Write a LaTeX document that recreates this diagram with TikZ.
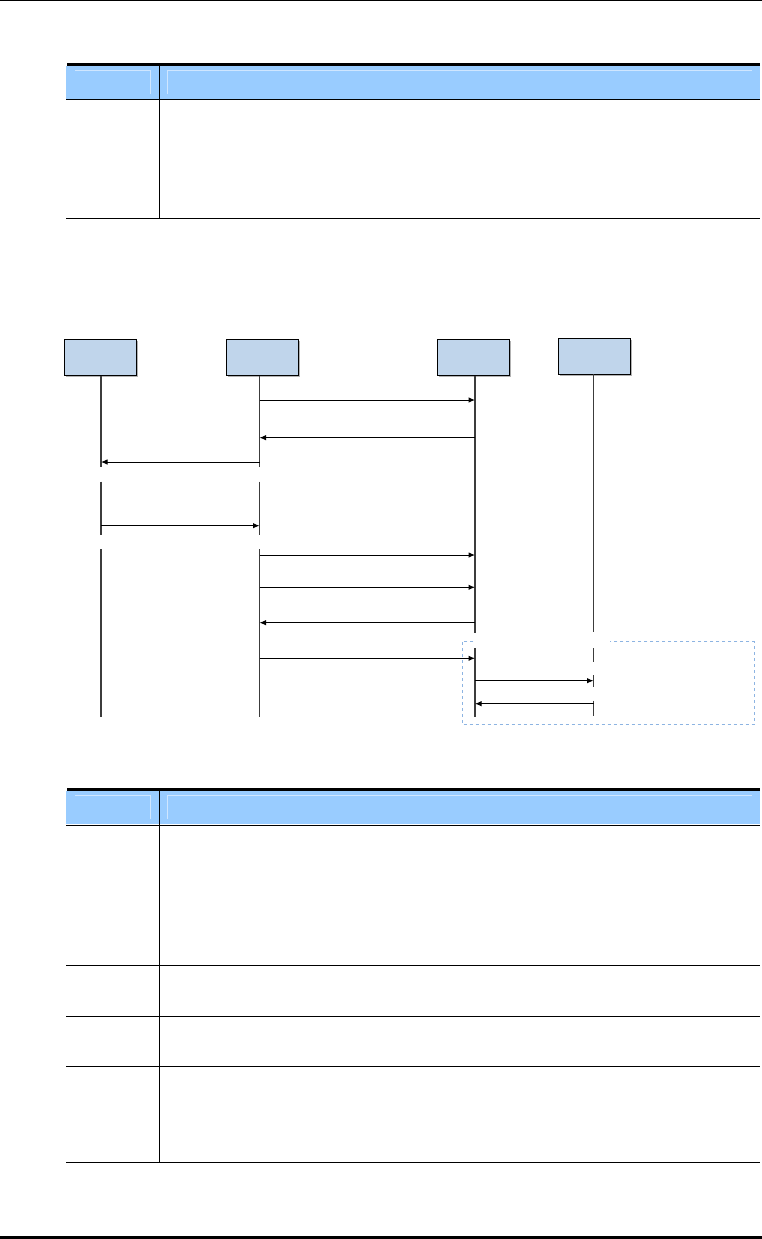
\documentclass[tikz,border=0pt]{standalone}
\usetikzlibrary{arrows.meta, positioning, shadows}
\definecolor{chead}{HTML}{99CCFF}
\definecolor{chigh}{HTML}{CFE6FF}
\definecolor{cactor}{HTML}{C0D5EB}
\definecolor{cgroup}{HTML}{8DB4E2}
\definecolor{cline}{HTML}{3C3C3C}
\begin{document}
\begin{tikzpicture}[
  x=1pt, y=-1pt,
  >={Latex[length=6.5pt,width=5.5pt]},
  actor/.style={draw=black, fill=cactor, line width=0.9pt, inner sep=0pt,
                minimum width=72pt, minimum height=36pt,
                drop shadow={shadow xshift=1.5pt, shadow yshift=-1.5pt,
                             fill=black!30, opacity=1}},
  life/.style={draw=cline, line width=1.3pt},
  msg/.style={->, draw=black, line width=1pt},
  rule/.style={draw=black, line width=1pt},
  thickrule/.style={draw=black, line width=3pt},
  hilite/.style={draw=chigh, line width=0.8pt},
  group/.style={draw=cgroup, dashed, line width=0.8pt},
]
\useasboundingbox (0,0) rectangle (762,1239);
% page rules
\draw[rule] (0,0.5) -- (762,0.5);
\draw[thickrule] (0,1237.5) -- (762,1237.5);

% upper table
\fill[chead] (66,66.3) rectangle (760,99.3);
\draw[hilite] (75,70.3) -- (150.3,70.3) -- (150.3,94.3);
\draw[hilite] (167.3,94.3) -- (167.3,70.3) -- (751.7,70.3);
\draw[thickrule] (67,64.8) -- (760,64.8);
\draw[rule] (66,99.8) -- (760,99.8);
\draw[rule] (159.3,64.8) -- (159.3,218.3);
\draw[rule] (66,218.3) -- (760,218.3);

% actors
\node[actor] (ue) at (100.5,357.5) {};
\node[actor, right=88.6pt of ue] (gw) {};
\node[actor, right=138.6pt of gw] (srv) {};
\node[actor, right=47.6pt of srv, yshift=1.2pt] (db) {};
\coordinate (l1) at ([xshift=0.5pt]ue.south);
\coordinate (l2) at ([xshift=-2.5pt]gw.south);
\coordinate (l3) at ([xshift=1.5pt]srv.south);
\coordinate (l4) at ([xshift=-0.5pt]db.south);

% lifelines
\foreach \a/\b in {375.7/467.3, 481.7/534.7, 549.3/716.7} {
  \draw[life] (l1 |- 0,\a) -- (l1 |- 0,\b);
  \draw[life] (l2 |- 0,\a) -- (l2 |- 0,\b);
}
\foreach \a/\b in {375.7/632.7, 648.3/716.7}
  \draw[life] (l3 |- 0,\a) -- (l3 |- 0,\b);
\foreach \a/\b in {374.3/632.3, 648.3/661.7, 675/686.7, 700.7/715.7}
  \draw[life] (l4 |- 0,\a) -- (l4 |- 0,\b);

% messages
\draw[msg] (l2 |- 0,400) -- (l3 |- 0,400);
\draw[msg] (l3 |- 0,437.7) -- (l2 |- 0,437.7);
\draw[msg] (l2 |- 0,462) -- (l1 |- 0,462);
\draw[msg] (l1 |- 0,525.7) -- (l2 |- 0,525.7);
\draw[msg] (l2 |- 0,555) -- (l3 |- 0,555);
\draw[msg] (l2 |- 0,587.3) -- (l3 |- 0,587.3);
\draw[msg] (l3 |- 0,622.7) -- (l2 |- 0,622.7);
\draw[msg] (l2 |- 0,658.3) -- (l3 |- 0,658.3);
\draw[msg] (l3 |- 0,680.7) -- (l4 |- 0,680.7);
\draw[msg] (l4 |- 0,703.7) -- (l3 |- 0,703.7);

% group frame
\draw[group] (473.3,641.3) -- (462,641.3) -- (462,724.3) -- (754,724.3)
  -- (754,641.3) -- (610,641.3);

% lower table
\fill[chead] (66,791) rectangle (760,824.3);
\draw[hilite] (75,795) -- (150.3,795) -- (150.3,819);
\draw[hilite] (167.3,819) -- (167.3,795) -- (751.7,795);
\draw[thickrule] (67,789.3) -- (760,789.3);
\draw[rule] (66,825) -- (760,825);
\draw[rule] (159.3,789.3) -- (159.3,1162.3);
\draw[rule] (66,965.7) -- (760,965.7);
\draw[rule] (66,1016) -- (760,1016);
\draw[rule] (66,1066.3) -- (760,1066.3);
\draw[rule] (66,1162.3) -- (760,1162.3);
\end{tikzpicture}
\end{document}
